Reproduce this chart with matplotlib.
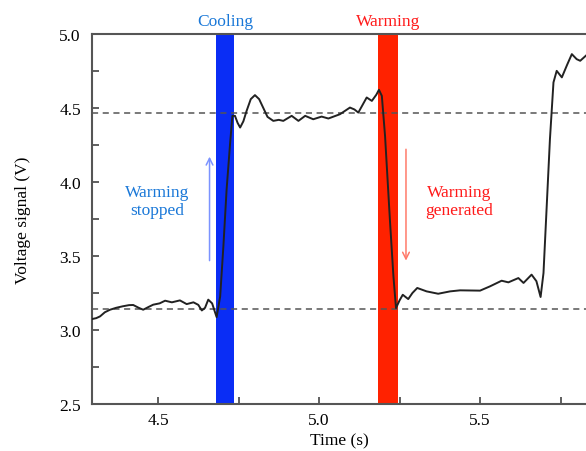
import matplotlib.pyplot as plt
from matplotlib.ticker import MultipleLocator

plt.rcParams['font.family'] = ['Liberation Serif', 'DejaVu Serif']

# -------------------- Data ----------------------- #
time_s = [4.295, 4.308, 4.320, 4.335, 4.351, 4.370, 4.390, 4.410, 4.423, 4.440,
          4.454, 4.470, 4.485, 4.505, 4.522, 4.543, 4.568, 4.589, 4.610, 4.625,
          4.636, 4.646, 4.656, 4.668, 4.682, 4.693, 4.703, 4.713, 4.724, 4.731,
          4.739, 4.747, 4.755, 4.765, 4.775, 4.788, 4.801, 4.814, 4.827, 4.840,
          4.858, 4.875, 4.889, 4.902, 4.915, 4.936, 4.957, 4.982, 5.008, 5.029,
          5.065, 5.096, 5.110, 5.122, 5.135, 5.148, 5.164, 5.178, 5.186, 5.195,
          5.205, 5.220, 5.231, 5.239, 5.250, 5.260, 5.277, 5.290, 5.305, 5.334,
          5.370, 5.407, 5.438, 5.500, 5.531, 5.567, 5.588, 5.619, 5.635, 5.660,
          5.675, 5.688, 5.697, 5.707, 5.717, 5.728, 5.738, 5.754, 5.770, 5.785,
          5.800, 5.811, 5.831]
voltage = [3.074, 3.080, 3.092, 3.120, 3.137, 3.150, 3.160, 3.168, 3.169, 3.150,
           3.137, 3.155, 3.171, 3.180, 3.198, 3.187, 3.200, 3.175, 3.187, 3.170,
           3.132, 3.150, 3.205, 3.180, 3.087, 3.227, 3.566, 3.950, 4.266, 4.447,
           4.447, 4.400, 4.368, 4.410, 4.480, 4.560, 4.587, 4.560, 4.500, 4.440,
           4.413, 4.420, 4.413, 4.430, 4.447, 4.413, 4.447, 4.424, 4.442, 4.429,
           4.458, 4.503, 4.490, 4.469, 4.520, 4.571, 4.548, 4.590, 4.623, 4.582,
           4.311, 3.747, 3.363, 3.148, 3.200, 3.238, 3.209, 3.250, 3.284, 3.261,
           3.245, 3.261, 3.268, 3.266, 3.295, 3.333, 3.322, 3.351, 3.318, 3.374,
           3.330, 3.223, 3.385, 3.837, 4.289, 4.673, 4.751, 4.707, 4.790, 4.864,
           4.830, 4.819, 4.858]

high_level = 4.463
low_level = 3.142
cooling_band = (4.680, 4.736)
warming_band = (5.182, 5.246)

# -------------------- Plot ----------------------- #
fig = plt.figure(figsize=(5.86, 4.52), dpi=100)
ax = fig.add_axes([92 / 586, 47 / 452, 1 - 92 / 586, 370 / 452])

ax.axvspan(*cooling_band, color='#0a2df5', lw=0, zorder=1)
ax.axvspan(*warming_band, color='#ff2200', lw=0, zorder=1)

ax.axhline(high_level, color='#555555', ls=(0, (4, 3)), lw=1.1, zorder=2)
ax.axhline(low_level, color='#555555', ls=(0, (4, 3)), lw=1.1, zorder=2)

ax.plot(time_s, voltage, color='#222222', lw=1.4, zorder=3, solid_joinstyle='round')

ax.set_xlim(4.295, 5.829)
ax.set_ylim(2.5, 5.0)
ax.xaxis.set_major_locator(MultipleLocator(0.5))
ax.xaxis.set_minor_locator(MultipleLocator(0.25))
ax.yaxis.set_major_locator(MultipleLocator(0.5))
ax.yaxis.set_minor_locator(MultipleLocator(0.25))
ax.xaxis.set_major_formatter(plt.FormatStrFormatter('%.1f'))
ax.yaxis.set_major_formatter(plt.FormatStrFormatter('%.1f'))
ax.tick_params(which='both', direction='in', color='#444444', labelsize=12.5, width=1.2)
ax.tick_params(which='major', length=5)
ax.tick_params(which='minor', length=5)
ax.tick_params(axis='y', pad=8)
ax.tick_params(axis='x', pad=6)
ax.spines['right'].set_visible(False)
for s in ['left', 'top', 'bottom']:
    ax.spines[s].set_color('#555555')
    ax.spines[s].set_linewidth(1.5)

ax.set_xlabel('Time (s)', fontsize=12.5, labelpad=3)
ax.set_ylabel('Voltage signal (V)', fontsize=12.5, labelpad=20)

ax.text(4.708, 5.035, 'Cooling', color='#1a78d8', fontsize=12.5, ha='center', va='bottom')
ax.text(5.214, 5.035, 'Warming', color='#ff1a1a', fontsize=12.5, ha='center', va='bottom')
ax.text(4.497, 3.87, 'Warming\nstopped', color='#1a78d8', fontsize=12.5, ha='center', va='center',
        linespacing=1.2)
ax.text(5.436, 3.87, 'Warming\ngenerated', color='#ff1a1a', fontsize=12.5, ha='center', va='center',
        linespacing=1.2)

ax.annotate('', xy=(4.66, 4.19), xytext=(4.66, 3.45),
            arrowprops=dict(arrowstyle='->', color='#7b93ff', lw=1.1, mutation_scale=12))
ax.annotate('', xy=(5.27, 3.45), xytext=(5.27, 4.24),
            arrowprops=dict(arrowstyle='->', color='#ff7a6a', lw=1.1, mutation_scale=12))

plt.savefig('out.png', dpi=100)
